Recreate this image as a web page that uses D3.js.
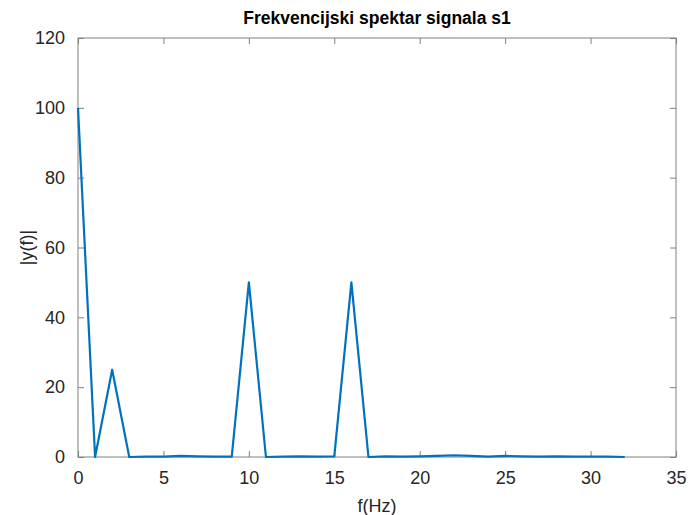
<!DOCTYPE html>
<html><head><meta charset="utf-8">
<script src="https://cdn.jsdelivr.net/npm/d3@7"></script>
<style>body{margin:0;background:#fff}</style>
</head><body>
<svg id="c" width="689" height="515"></svg>
<script>
const freqs = [0,1,2,3,4,5,6,7,8,9,10,11,12,13,14,15,16,17,18,19,20,21,22,23,24,25,26,27,28,29,30,31,32];
const amps  = [100,0,25,0,0.1,0.1,0.3,0.2,0.1,0.1,50,0,0.1,0.2,0.1,0.2,50,0,0.2,0.1,0.2,0.3,0.5,0.3,0.1,0.3,0.2,0.1,0.2,0.1,0.1,0.1,0];
const xTicks = [0,5,10,15,20,25,30,35];
const yTicks = [0,20,40,60,80,100,120];
const title = "Frekvencijski spektar signala s1";
const xLabel = "f(Hz)";
const yLabel = "|y(f)|";

const W=689,H=515,m={l:78,r:13,t:38,b:58};
const svg=d3.select("#c");
const x=d3.scaleLinear().domain([0,35]).range([m.l,W-m.r]);
const y=d3.scaleLinear().domain([0,120]).range([H-m.b,m.t]);
const axCol="#808080", txtCol="#262626", font="Arial, 'Liberation Sans', sans-serif";

function style(g){
  g.select(".domain").remove();
  g.selectAll("line").attr("stroke",axCol).attr("stroke-width",1);
  g.selectAll("text").attr("fill",txtCol).style("font-family",font).style("font-size","18px");
}
const tl=6;
svg.append("g").attr("transform",`translate(0,${H-m.b})`)
  .call(d3.axisBottom(x).tickValues(xTicks).tickSizeInner(-tl).tickSizeOuter(0).tickPadding(14)).call(style);
svg.append("g").attr("transform",`translate(0,${m.t})`)
  .call(d3.axisTop(x).tickValues(xTicks).tickSizeInner(-tl).tickSizeOuter(0).tickFormat("")).call(style);
svg.append("g").attr("transform",`translate(${m.l},0)`)
  .call(d3.axisLeft(y).tickValues(yTicks).tickSizeInner(-tl).tickSizeOuter(0).tickPadding(13)).call(style);
svg.append("g").attr("transform",`translate(${W-m.r},0)`)
  .call(d3.axisRight(y).tickValues(yTicks).tickSizeInner(-tl).tickSizeOuter(0).tickFormat("")).call(style);

svg.append("rect").attr("x",m.l).attr("y",m.t).attr("width",W-m.l-m.r).attr("height",H-m.t-m.b)
  .attr("fill","none").attr("stroke",axCol).attr("stroke-width",1);

const line=d3.line().x((d,i)=>x(freqs[i])).y(d=>y(d));
svg.append("path").datum(amps).attr("d",line).attr("fill","none")
  .attr("stroke","#0072BD").attr("stroke-width",2.2).attr("stroke-linejoin","round");

svg.append("text").attr("x",(m.l+W-m.r)/2).attr("y",24).attr("text-anchor","middle")
  .style("font-family",font).style("font-size","17.5px").style("font-weight","bold").attr("fill","#000").text(title);
svg.append("text").attr("x",(m.l+W-m.r)/2).attr("y",512).attr("text-anchor","middle")
  .style("font-family",font).style("font-size","18px").attr("fill",txtCol).text(xLabel);
svg.append("text").attr("transform",`translate(33,${(m.t+H-m.b)/2}) rotate(-90)`).attr("text-anchor","middle")
  .style("font-family",font).style("font-size","18px").attr("fill",txtCol).text(yLabel);
</script>
</body></html>
